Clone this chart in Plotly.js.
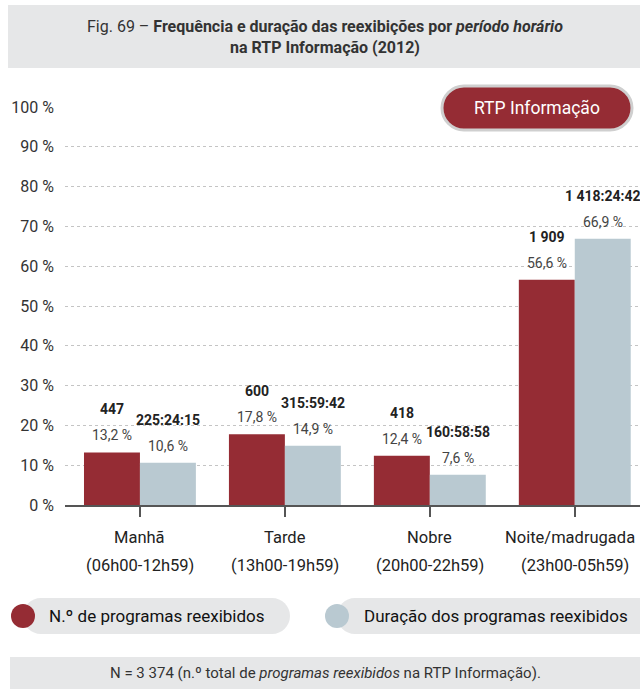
<!DOCTYPE html>
<html>
<head>
<meta charset="utf-8">
<script src="https://cdn.plot.ly/plotly-3.0.1.min.js"></script>
<style>html,body{margin:0;padding:0;background:#fff;}#chart{width:640px;height:689px;}</style>
</head>
<body>
<div id="chart"></div>
<script>
// ---- data ----
const categories = ["Manhã", "Tarde", "Nobre", "Noite/madrugada"];
const periodRanges = ["(06h00-12h59)", "(13h00-19h59)", "(20h00-22h59)", "(23h00-05h59)"];
const programsPct = [13.2, 17.8, 12.4, 56.6];
const programsCount = ["447", "600", "418", "1 909"];
const durationPct = [10.6, 14.9, 7.6, 66.9];
const durationTime = ["225:24:15", "315:59:42", "160:58:58", "1 418:24:42"];
const seriesNames = ["N.º de programas reexibidos", "Duração dos programas reexibidos"];
const yTickVals = [0, 10, 20, 30, 40, 50, 60, 70, 80, 90, 100];
const yTickText = ["0 %", "10 %", "20 %", "30 %", "40 %", "50 %", "60 %", "70 %", "80 %", "90 %", "100 %"];

// ---- style ----
const FONT = "Roboto, 'Noto Sans', sans-serif";
const RED = "#952c34";
const BLUE = "#b9c9d1";
const W = 640, H = 689;
const M = {l: 65, r: 0, t: 107, b: 184};
const PW = W - M.l - M.r, PH = H - M.t - M.b;
const px = X => (X - M.l) / PW;
const py = Y => (H - M.b - Y) / PH;
const fmt = v => v.toFixed(1).replace('.', ',') + ' %';

function pill(x0, y0, x1, y1) {
  const r = (y1 - y0) / 2, k = 0.5523 * r;
  const P = (X, Y) => px(X).toFixed(5) + ',' + py(Y).toFixed(5);
  return 'M' + P(x0 + r, y0) + ' L' + P(x1 - r, y0) +
    ' C' + P(x1 - r + k, y0) + ' ' + P(x1, y0 + r - k) + ' ' + P(x1, y0 + r) +
    ' C' + P(x1, y0 + r + k) + ' ' + P(x1 - r + k, y1) + ' ' + P(x1 - r, y1) +
    ' L' + P(x0 + r, y1) +
    ' C' + P(x0 + r - k, y1) + ' ' + P(x0, y0 + r + k) + ' ' + P(x0, y0 + r) +
    ' C' + P(x0, y0 + r - k) + ' ' + P(x0 + r - k, y0) + ' ' + P(x0 + r, y0) + ' Z';
}
function circ(cx, cy, r, color) {
  return {type: 'circle', xref: 'paper', yref: 'paper', x0: px(cx - r), x1: px(cx + r),
    y0: py(cy + r), y1: py(cy - r), fillcolor: color, line: {width: 0}, layer: 'above'};
}

const traces = [
  {type: 'bar', name: seriesNames[0], x: categories, y: programsPct, marker: {color: RED}, hoverinfo: 'none'},
  {type: 'bar', name: seriesNames[1], x: categories, y: durationPct, marker: {color: BLUE}, hoverinfo: 'none'}
];

const ann = [];
// title
ann.push({xref: 'paper', yref: 'paper', x: px(325), y: py(37), xanchor: 'center', yanchor: 'middle', showarrow: false,
  text: "Fig. 69 – <b>Frequência e duração das reexibições por</b> <i><b>período horário</b></i><br><b>na RTP Informação (2012)</b>",
  font: {family: FONT, size: 16, color: '#333'}});
// badge text
ann.push({xref: 'paper', yref: 'paper', x: px(537), y: py(108), xanchor: 'center', yanchor: 'middle', showarrow: false,
  text: "RTP Informação", font: {family: FONT, size: 17.5, color: '#fff'}});
// bar labels
const BAROFF = 28;
categories.forEach((c, i) => {
  ann.push({x: c, y: programsPct[i], xshift: -BAROFF, yshift: 17, yanchor: 'middle', showarrow: false,
    text: fmt(programsPct[i]), font: {family: FONT, size: 14, color: '#444'}});
  ann.push({x: c, y: programsPct[i], xshift: -BAROFF, yshift: 43, yanchor: 'middle', showarrow: false,
    text: programsCount[i], font: {family: FONT, size: 14, color: '#222', weight: 'bold'}});
  ann.push({x: c, y: durationPct[i], xshift: BAROFF, yshift: 17, yanchor: 'middle', showarrow: false,
    text: fmt(durationPct[i]), font: {family: FONT, size: 14, color: '#444'}});
  ann.push({x: c, y: durationPct[i], xshift: BAROFF, yshift: 43, yanchor: 'middle', showarrow: false,
    text: durationTime[i], font: {family: FONT, size: 14, color: '#222', weight: 'bold'}});
  // category labels (last one nudged left to stay inside the page, as in the original)
  const edge = (i === categories.length - 1) ? -5 : 0;
  ann.push({x: c, yref: 'paper', y: py(537), yanchor: 'middle', xshift: edge, showarrow: false,
    text: c, font: {family: FONT, size: 16.5, color: '#222'}});
  ann.push({x: c, yref: 'paper', y: py(565), yanchor: 'middle', showarrow: false,
    text: periodRanges[i], font: {family: FONT, size: 16.5, color: '#222'}});
});
// legend
ann.push({xref: 'paper', yref: 'paper', x: px(47), y: py(616), xanchor: 'left', yanchor: 'middle', showarrow: false,
  text: seriesNames[0], font: {family: FONT, size: 17, color: '#111'}});
ann.push({xref: 'paper', yref: 'paper', x: px(362), y: py(616), xanchor: 'left', yanchor: 'middle', showarrow: false,
  text: seriesNames[1], font: {family: FONT, size: 17, color: '#111'}});
// footer
ann.push({xref: 'paper', yref: 'paper', x: px(325), y: py(673), xanchor: 'center', yanchor: 'middle', showarrow: false,
  text: "N = 3 374 (n.º total de <i>programas reexibidos</i> na RTP Informação).",
  font: {family: FONT, size: 15, color: '#333'}});

const shapes = [
  {type: 'rect', xref: 'paper', yref: 'paper', x0: px(8), x1: px(640), y0: py(68), y1: py(5), fillcolor: '#e6e7e8', line: {width: 0}, layer: 'below'},
  {type: 'rect', xref: 'paper', yref: 'paper', x0: px(10), x1: px(640), y0: py(689), y1: py(657), fillcolor: '#e6e7e8', line: {width: 0}, layer: 'below'},
  {type: 'path', xref: 'paper', yref: 'paper', path: pill(23, 598, 290, 634), fillcolor: '#e6e7e8', line: {width: 0}, layer: 'below'},
  {type: 'path', xref: 'paper', yref: 'paper', path: pill(337, 598, 660, 634), fillcolor: '#e6e7e8', line: {width: 0}, layer: 'below'},
  circ(23, 616, 12, RED),
  circ(337, 616, 12, BLUE),
  {type: 'path', xref: 'paper', yref: 'paper', path: pill(442, 86, 632, 130), fillcolor: RED, line: {width: 3, color: '#cfcfcf'}, layer: 'above'}
];

const layout = {
  width: W, height: H, margin: M, paper_bgcolor: '#fff', plot_bgcolor: '#fff',
  showlegend: false, barmode: 'group', bargap: 0.228, bargroupgap: 0,
  font: {family: FONT, color: '#333'},
  xaxis: {type: 'category', range: [-0.517, 3.45], showticklabels: false, ticks: 'outside', ticklen: 10,
    tickwidth: 2, tickcolor: '#555', showline: true, linecolor: '#555', linewidth: 2, showgrid: false, fixedrange: true},
  yaxis: {range: [0, 100], tickmode: 'array', tickvals: yTickVals, ticktext: yTickText, showgrid: true, gridcolor: '#c4c4c4', griddash: 'dot',
    gridwidth: 1, zeroline: false, showline: false, ticks: '', ticklabelstandoff: 10,
    tickfont: {family: FONT, size: 16, color: '#333'}, fixedrange: true},
  annotations: ann, shapes: shapes
};
Plotly.newPlot('chart', traces, layout, {displayModeBar: false, staticPlot: true});
</script>
</body>
</html>
